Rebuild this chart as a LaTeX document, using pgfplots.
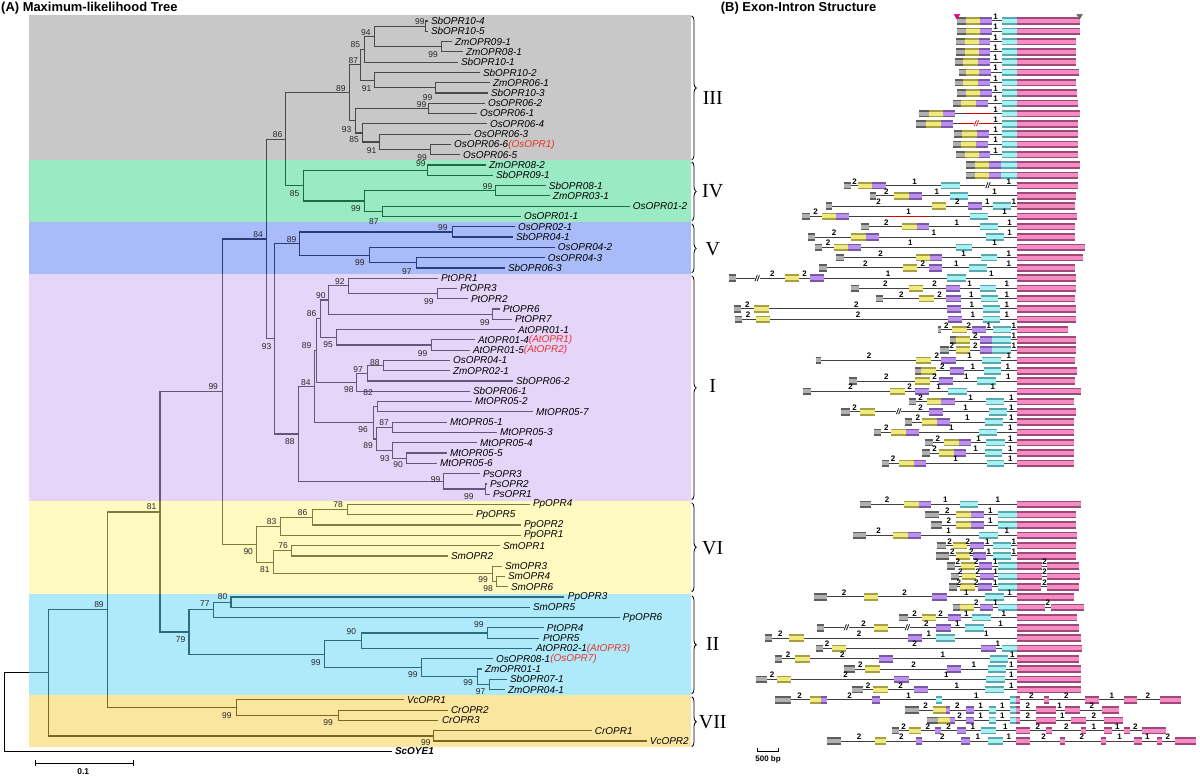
\documentclass[border=0pt]{standalone}
\usepackage{pgfplots}
\pgfplotsset{compat=1.18}
\usepackage{pgfplotstable}
\usetikzlibrary{decorations.pathreplacing}
\usepackage{fontspec}
\setmainfont{Liberation Sans}
\newfontfamily\romanfont{Liberation Serif}
\definecolor{bandIII}{HTML}{939393}
\definecolor{bandIV}{HTML}{36D68A}
\definecolor{bandV}{HTML}{5478F5}
\definecolor{bandI}{HTML}{CCADF5}
\definecolor{bandVI}{HTML}{FFF780}
\definecolor{bandII}{HTML}{5ED6F5}
\definecolor{bandVII}{HTML}{F8CF40}
\definecolor{redlab}{HTML}{E8302C}
\definecolor{gD}{HTML}{5E5E5E}\definecolor{gL}{HTML}{B0B0B0}
\definecolor{yD}{HTML}{A8A040}\definecolor{yL}{HTML}{EEEA80}
\definecolor{pD}{HTML}{7A58A8}\definecolor{pL}{HTML}{BC90EC}
\definecolor{cD}{HTML}{58A8B0}\definecolor{cL}{HTML}{A8F0F2}
\definecolor{kD}{HTML}{A04878}\definecolor{kL}{HTML}{F58CC4}

\pgfplotstableread{
x y
48.3 673.1
4.3 673.1
4.3 751.6
392 751.6
nan nan
107.3 610.0
48.3 610.0
48.3 736.2
433.9 736.2
nan nan
160 512.1
107.3 512.1
107.3 707.9
236.5 707.9
nan nan
404 700.1
236.5 700.1
236.5 715.6
338.4 715.6
nan nan
447.7 710.4
338.4 710.4
338.4 720.7
438.5 720.7
nan nan
592.3 731.0
433.9 731.0
433.9 741.3
647.4 741.3
nan nan
222.3 391.8
160 391.8
160 632.3
189 632.3
nan nan
213.3 610.1
189 610.1
189 654.5
325 654.5
nan nan
231 602.4
213.3 602.4
213.3 617.8
620 617.8
nan nan
564.7 597.2
231 597.2
231 607.5
530 607.5
nan nan
361.3 641.0
325 641.0
325 668.0
421.5 668.0
nan nan
487.6 633.3
361.3 633.3
361.3 648.7
532.6 648.7
nan nan
544 628.1
487.6 628.1
487.6 638.4
539.5 638.4
nan nan
492.7 659.0
421.5 659.0
421.5 677.0
477.5 677.0
nan nan
482 669.3
477.5 669.3
477.5 684.8
490 684.8
nan nan
507.3 679.6
490 679.6
490 689.9
505 689.9
nan nan
266.7 239.1
222.3 239.1
222.3 544.5
256.7 544.5
nan nan
280.7 526.5
256.7 526.5
256.7 562.6
274 562.6
nan nan
312.3 517.5
280.7 517.5
280.7 535.5
521 535.5
nan nan
347.7 509.8
312.3 509.8
312.3 525.2
521 525.2
nan nan
530 504.6
347.7 504.6
347.7 514.9
473.3 514.9
nan nan
291.7 551.0
274 551.0
274 574.1
492.3 574.1
nan nan
500 545.8
291.7 545.8
291.7 556.1
448.3 556.1
nan nan
501.7 566.4
492.3 566.4
492.3 581.9
496.7 581.9
nan nan
505 576.7
496.7 576.7
496.7 587.0
508.3 587.0
nan nan
285.7 139.3
266.7 139.3
266.7 338.9
274.3 338.9
nan nan
350 92.8
285.7 92.8
285.7 185.7
303.3 185.7
nan nan
361 64.8
350 64.8
350 120.7
355.7 120.7
nan nan
365 49.4
361 49.4
361 80.2
375 80.2
nan nan
375 36.5
365 36.5
365 62.2
458 62.2
nan nan
426 26.2
375 26.2
375 46.8
441.7 46.8
nan nan
428 21.0
426 21.0
426 31.3
428 31.3
nan nan
452 41.6
441.7 41.6
441.7 51.9
463 51.9
nan nan
480 72.5
375 72.5
375 87.9
435.7 87.9
nan nan
490 82.7
435.7 82.7
435.7 93.0
488 93.0
nan nan
429 108.5
355.7 108.5
355.7 133.0
362.3 133.0
nan nan
485 103.3
429 103.3
429 113.6
477 113.6
nan nan
487 123.9
362.3 123.9
362.3 142.0
380 142.0
nan nan
471 134.2
380 134.2
380 149.7
431 149.7
nan nan
451 144.5
431 144.5
431 154.8
460 154.8
nan nan
427.3 170.3
303.3 170.3
303.3 201.1
364.3 201.1
nan nan
486 165.1
427.3 165.1
427.3 175.4
493 175.4
nan nan
496 190.8
364.3 190.8
364.3 211.4
382.7 211.4
nan nan
546 185.6
496 185.6
496 195.9
550 195.9
nan nan
630 206.2
382.7 206.2
382.7 216.5
521 216.5
nan nan
300 243.6
274.3 243.6
274.3 434.2
298.3 434.2
nan nan
452.7 232.0
300 232.0
300 255.2
369.3 255.2
nan nan
515 226.8
452.7 226.8
452.7 237.1
513 237.1
nan nan
555 247.4
369.3 247.4
369.3 262.9
416.7 262.9
nan nan
545 257.7
416.7 257.7
416.7 268.0
505 268.0
nan nan
315 386.9
298.3 386.9
298.3 481.5
443.3 481.5
nan nan
316.7 350.7
315 350.7
315 423.0
373.3 423.0
nan nan
320.7 318.9
316.7 318.9
316.7 382.5
356.7 382.5
nan nan
329 300.2
320.7 300.2
320.7 337.5
336.7 337.5
nan nan
349 286.0
329 286.0
329 314.3
492.3 314.3
nan nan
438.3 278.3
349 278.3
349 293.7
437.3 293.7
nan nan
457.3 288.5
437.3 288.5
437.3 298.8
468.3 298.8
nan nan
500 309.1
492.3 309.1
492.3 319.4
511.7 319.4
nan nan
515 329.7
336.7 329.7
336.7 345.2
431.7 345.2
nan nan
475 340.0
431.7 340.0
431.7 350.3
470 350.3
nan nan
367.7 373.5
356.7 373.5
356.7 391.4
470 391.4
nan nan
383.3 365.8
367.7 365.8
367.7 381.2
513.3 381.2
nan nan
450 360.6
383.3 360.6
383.3 370.9
450 370.9
nan nan
377.7 406.9
373.3 406.9
373.3 439.1
376.7 439.1
nan nan
471.7 401.7
377.7 401.7
377.7 412.0
533.3 412.0
nan nan
392.7 427.5
376.7 427.5
376.7 450.7
392.7 450.7
nan nan
446.7 422.3
392.7 422.3
392.7 432.6
497.3 432.6
nan nan
477.3 442.9
392.7 442.9
392.7 458.4
406.7 458.4
nan nan
446.7 453.2
406.7 453.2
406.7 463.5
436.7 463.5
nan nan
480 473.8
443.3 473.8
443.3 489.2
485.7 489.2
nan nan
487.3 484.1
485.7 484.1
485.7 494.3
490 494.3
}\treetab

\pgfplotstableread{
x y t
431 21.0 SbOPR10-4
431 31.3 SbOPR10-5
455 41.6 ZmOPR09-1
466 51.9 ZmOPR08-1
461 62.2 SbOPR10-1
483 72.5 SbOPR10-2
493 82.7 ZmOPR06-1
491 93.0 SbOPR10-3
488 103.3 OsOPR06-2
480 113.6 OsOPR06-1
490 123.9 OsOPR06-4
474 134.2 OsOPR06-3
454 144.5 OsOPR06-6
463 154.8 OsOPR06-5
489 165.1 ZmOPR08-2
496 175.4 SbOPR09-1
549 185.6 SbOPR08-1
553 195.9 ZmOPR03-1
633 206.2 OsOPR01-2
524 216.5 OsOPR01-1
518 226.8 OsOPR02-1
516 237.1 SbOPR04-1
558 247.4 OsOPR04-2
548 257.7 OsOPR04-3
508 268.0 SbOPR06-3
441 278.3 PtOPR1
460 288.5 PtOPR3
471 298.8 PtOPR2
503 309.1 PtOPR6
515 319.4 PtOPR7
518 329.7 AtOPR01-1
478 340.0 AtOPR01-4
473 350.3 AtOPR01-5
453 360.6 OsOPR04-1
453 370.9 ZmOPR02-1
516 381.2 SbOPR06-2
473 391.4 SbOPR06-1
475 401.7 MtOPR05-2
536 412.0 MtOPR05-7
450 422.3 MtOPR05-1
500 432.6 MtOPR05-3
480 442.9 MtOPR05-4
450 453.2 MtOPR05-5
440 463.5 MtOPR05-6
483 473.8 PsOPR3
490 484.1 PsOPR2
493 494.3 PsOPR1
533 504.6 PpOPR4
476 514.9 PpOPR5
524 525.2 PpOPR2
524 535.5 PpOPR1
503 545.8 SmOPR1
451 556.1 SmOPR2
505 566.4 SmOPR3
508 576.7 SmOPR4
511 587.0 SmOPR6
568 597.2 PpOPR3
533 607.5 SmOPR5
623 617.8 PpOPR6
547 628.1 PtOPR4
543 638.4 PtOPR5
536 648.7 AtOPR02-1
496 659.0 OsOPR08-1
485 669.3 ZmOPR01-1
510 679.6 SbOPR07-1
508 689.9 ZmOPR04-1
407 700.1 VcOPR1
451 710.4 CrOPR2
442 720.7 CrOPR3
595 731.0 CrOPR1
650 741.3 VcOPR2
}\leaftab

\pgfplotstableread{
x y t
420 22 99
366 33 94
355.5 45 85
433.3 55 99
353.5 61 87
341 88.3 89
366.7 88.3 91
427.7 97.3 99
421.7 105 99
346.7 129.3 93
354.3 140 85
371.7 150.3 91
422.3 157.3 99
277.7 134.7 86
421 164 99
294.7 193.3 85
487.7 186.7 99
356 209 99
374 221.7 87
258.3 235 84
291.7 239.3 89
443 228 99
360 263 99
407 272 97
340 281.7 92
321 296 90
429 302 99
311.7 314 86
485 323 99
306.7 346 89
328.3 345 95
422.7 353.3 99
375 362.7 88
358.3 370 97
306 382.3 84
349 389.3 98
266.7 346.7 93
368.3 392.7 82
363.3 429.3 96
384.3 422.7 87
368.3 445.7 89
385 458.3 93
398.3 465 90
290 441.7 88
435.7 480 99
469 496.7 99
213.3 386.7 99
151.7 506.7 81
338.3 505 78
302.7 512.7 86
271.7 521.7 83
248.3 551.7 90
283.3 546 76
265 569.3 81
483.3 580 99
488.3 589 98
99 604.3 89
222.7 596.7 80
205 604.3 77
180.7 640 79
479 625 99
351.5 632 90
316 662.7 99
413 675 99
468.3 683.3 99
480.7 691.7 97
227 716 99
328.3 722.7 99
426 743.3 99
}\boottab

\pgfplotstableread{
x y
957.7 21.0
1017.7 21.0
nan nan
957.3 31.3
1017.7 31.3
nan nan
956 41.6
1017.7 41.6
nan nan
956 51.9
1017.7 51.9
nan nan
955 62.2
1017.7 62.2
nan nan
959.3 72.5
1017.7 72.5
nan nan
955 82.7
1017.7 82.7
nan nan
957.3 93.0
1017.7 93.0
nan nan
953.3 103.3
1017.7 103.3
nan nan
919 113.6
1017.7 113.6
nan nan
916.7 123.9
1017.7 123.9
nan nan
954.3 134.2
1017.7 134.2
nan nan
953.3 144.5
1017.7 144.5
nan nan
956.7 154.8
1017.7 154.8
nan nan
844.3 185.6
1017.7 185.6
nan nan
870 195.9
1017.7 195.9
nan nan
826.7 206.2
1017.7 206.2
nan nan
802.7 216.5
1017.7 216.5
nan nan
861.7 226.8
1017.7 226.8
nan nan
808.3 237.1
1017.7 237.1
nan nan
815.7 247.4
1017.7 247.4
nan nan
836.7 257.7
1017.7 257.7
nan nan
819 268.0
1017.7 268.0
nan nan
729.3 278.3
1017.7 278.3
nan nan
851.7 288.5
1017.7 288.5
nan nan
876.7 298.8
1017.7 298.8
nan nan
734 309.1
1017.7 309.1
nan nan
735 319.4
1017.7 319.4
nan nan
938.3 329.7
1017.7 329.7
nan nan
950 340.0
1017.7 340.0
nan nan
940.7 350.3
1017.7 350.3
nan nan
816 360.6
1017.7 360.6
nan nan
915 370.9
1017.7 370.9
nan nan
849 381.2
1017.7 381.2
nan nan
803.3 391.4
1017.7 391.4
nan nan
909.3 401.7
1017.7 401.7
nan nan
841.7 412.0
1017.7 412.0
nan nan
905.7 422.3
1017.7 422.3
nan nan
874.3 432.6
1017.7 432.6
nan nan
925.7 442.9
1017.7 442.9
nan nan
922.7 453.2
1017.7 453.2
nan nan
882.3 463.5
1017.7 463.5
nan nan
860 504.6
1017.7 504.6
nan nan
925 514.9
1017.7 514.9
nan nan
931 525.2
1017.7 525.2
nan nan
853.3 535.5
1017.7 535.5
nan nan
937.3 545.8
1017.7 545.8
nan nan
936 556.1
1017.7 556.1
nan nan
947.7 566.4
1060 566.4
nan nan
951 576.7
1060 576.7
nan nan
949.3 587.0
1060 587.0
nan nan
814.3 597.2
1017.7 597.2
nan nan
953.3 607.5
1060 607.5
nan nan
899 617.8
1017.7 617.8
nan nan
817.3 628.1
1017.7 628.1
nan nan
765 638.4
1017.7 638.4
nan nan
816 648.7
1017.7 648.7
nan nan
775 659.0
1017.7 659.0
nan nan
844.3 669.3
1017.7 669.3
nan nan
756.7 679.6
1017.7 679.6
nan nan
852.7 689.9
1017.7 689.9
nan nan
775 700.1
1181 700.1
nan nan
905 710.4
1119.3 710.4
nan nan
927.3 720.7
1123.3 720.7
nan nan
892.7 731.0
1166.7 731.0
nan nan
827.3 741.3
1196.7 741.3
}\introntab

\pgfplotstableread{
x y
957.7 21.0
966.7 21.0
nan nan
957.3 31.3
966.7 31.3
nan nan
956 41.6
965 41.6
nan nan
956 51.9
965 51.9
nan nan
955 62.2
963.3 62.2
nan nan
959.3 72.5
966 72.5
nan nan
955 82.7
963.3 82.7
nan nan
957.3 93.0
966 93.0
nan nan
953.3 103.3
961.7 103.3
nan nan
919 113.6
929 113.6
nan nan
916.7 123.9
926.7 123.9
nan nan
954.3 134.2
962.7 134.2
nan nan
953.3 144.5
961.7 144.5
nan nan
956.7 154.8
965 154.8
nan nan
966.7 165.1
975 165.1
nan nan
966.7 175.4
975 175.4
nan nan
844.3 185.6
851 185.6
nan nan
870 195.9
876.7 195.9
nan nan
826.7 206.2
832.7 206.2
nan nan
802.7 216.5
810 216.5
nan nan
861.7 226.8
869 226.8
nan nan
808.3 237.1
815 237.1
nan nan
815.7 247.4
822.3 247.4
nan nan
836.7 257.7
844 257.7
nan nan
819 268.0
827.7 268.0
nan nan
729.3 278.3
736.7 278.3
nan nan
851.7 288.5
859.3 288.5
nan nan
876.7 298.8
883.3 298.8
nan nan
734 309.1
741 309.1
nan nan
735 319.4
742.3 319.4
nan nan
938.3 329.7
941 329.7
nan nan
950 340.0
956.7 340.0
nan nan
940.7 350.3
949.3 350.3
nan nan
816 360.6
821.7 360.6
nan nan
915 370.9
921.7 370.9
nan nan
849 381.2
857.7 381.2
nan nan
803.3 391.4
811.7 391.4
nan nan
909.3 401.7
916.7 401.7
nan nan
841.7 412.0
850.7 412.0
nan nan
905.7 422.3
912.3 422.3
nan nan
874.3 432.6
881.7 432.6
nan nan
925.7 442.9
933.3 442.9
nan nan
922.7 453.2
930.7 453.2
nan nan
882.3 463.5
889.3 463.5
nan nan
860 504.6
871 504.6
nan nan
925 514.9
939 514.9
nan nan
931 525.2
942.7 525.2
nan nan
853.3 535.5
866.7 535.5
nan nan
937.3 545.8
946.7 545.8
nan nan
936 556.1
949.3 556.1
nan nan
947.7 566.4
955 566.4
nan nan
951 576.7
959.3 576.7
nan nan
949.3 587.0
957.3 587.0
nan nan
814.3 597.2
827.7 597.2
nan nan
953.3 607.5
960 607.5
nan nan
899 617.8
908.3 617.8
nan nan
817.3 628.1
824 628.1
nan nan
765 638.4
772.3 638.4
nan nan
816 648.7
823.3 648.7
nan nan
775 659.0
782.7 659.0
nan nan
844.3 669.3
855 669.3
nan nan
756.7 679.6
767.7 679.6
nan nan
852.7 689.9
863.3 689.9
nan nan
775 700.1
791.7 700.1
nan nan
905 710.4
919.3 710.4
nan nan
927.3 720.7
938.3 720.7
nan nan
892.7 731.0
899.3 731.0
nan nan
827.3 741.3
841.7 741.3
}\graytab

\pgfplotstableread{
x y
966.7 21.0
980.7 21.0
nan nan
966.7 31.3
980.7 31.3
nan nan
965 41.6
979.3 41.6
nan nan
965 51.9
979.3 51.9
nan nan
963.3 62.2
978.3 62.2
nan nan
966 72.5
979.3 72.5
nan nan
963.3 82.7
978.3 82.7
nan nan
966 93.0
980.7 93.0
nan nan
961.7 103.3
976 103.3
nan nan
929 113.6
943.3 113.6
nan nan
926.7 123.9
941 123.9
nan nan
962.7 134.2
977.3 134.2
nan nan
961.7 144.5
976.7 144.5
nan nan
965 154.8
979.3 154.8
nan nan
975 165.1
989.3 165.1
nan nan
975 175.4
989.3 175.4
nan nan
858.3 185.6
872.7 185.6
nan nan
894.3 195.9
909.3 195.9
nan nan
932.3 206.2
946 206.2
nan nan
822.7 216.5
836.7 216.5
nan nan
902.7 226.8
917.3 226.8
nan nan
851 237.1
866 237.1
nan nan
834 247.4
848.3 247.4
nan nan
916.7 257.7
930.7 257.7
nan nan
903.3 268.0
917.3 268.0
nan nan
785 278.3
799.3 278.3
nan nan
909 288.5
923.3 288.5
nan nan
919.3 298.8
934 298.8
nan nan
754.3 309.1
769 309.1
nan nan
756 319.4
770 319.4
nan nan
952.3 329.7
967.3 329.7
nan nan
956.7 340.0
970.7 340.0
nan nan
956.7 350.3
970.7 350.3
nan nan
916.7 360.6
931 360.6
nan nan
921.7 370.9
936 370.9
nan nan
915.7 381.2
930 381.2
nan nan
890.7 391.4
905 391.4
nan nan
927.3 401.7
941.7 401.7
nan nan
860 412.0
875 412.0
nan nan
922.7 422.3
937.3 422.3
nan nan
891.7 432.6
906 432.6
nan nan
944.3 442.9
959 442.9
nan nan
939.3 453.2
954 453.2
nan nan
899.3 463.5
914 463.5
nan nan
904.3 504.6
919 504.6
nan nan
956.7 514.9
971.7 514.9
nan nan
956.7 525.2
971 525.2
nan nan
893.3 535.5
908.3 535.5
nan nan
953.3 545.8
967.3 545.8
nan nan
956 556.1
970 556.1
nan nan
961.7 566.4
975 566.4
nan nan
962.7 576.7
976 576.7
nan nan
960.7 587.0
975 587.0
nan nan
864 597.2
878.3 597.2
nan nan
960 607.5
974 607.5
nan nan
922.7 617.8
936 617.8
nan nan
874 628.1
888.3 628.1
nan nan
789.3 638.4
804 638.4
nan nan
832.3 648.7
846.7 648.7
nan nan
795.7 659.0
810 659.0
nan nan
865.7 669.3
880 669.3
nan nan
777.3 679.6
791.7 679.6
nan nan
873.3 689.9
888.3 689.9
nan nan
810 700.1
821.7 700.1
nan nan
933.3 710.4
946 710.4
nan nan
938.3 720.7
950 720.7
nan nan
909.3 731.0
921 731.0
nan nan
875 741.3
886.7 741.3
}\yellowtab

\pgfplotstableread{
x y
980.7 21.0
992.3 21.0
nan nan
980.7 31.3
992.3 31.3
nan nan
979.3 41.6
990.7 41.6
nan nan
979.3 51.9
990.7 51.9
nan nan
978.3 62.2
990 62.2
nan nan
979.3 72.5
991.7 72.5
nan nan
978.3 82.7
990 82.7
nan nan
980.7 93.0
992.3 93.0
nan nan
976 103.3
988.3 103.3
nan nan
943.3 113.6
955.7 113.6
nan nan
941 123.9
953.3 123.9
nan nan
977.3 134.2
989.3 134.2
nan nan
976.7 144.5
988.3 144.5
nan nan
979.3 154.8
990.7 154.8
nan nan
989.3 165.1
1001.7 165.1
nan nan
989.3 175.4
1001.7 175.4
nan nan
872.7 185.6
886 185.6
nan nan
909.3 195.9
922.3 195.9
nan nan
968.3 206.2
982.3 206.2
nan nan
836.7 216.5
849 216.5
nan nan
917.3 226.8
929.3 226.8
nan nan
866 237.1
879 237.1
nan nan
848.3 247.4
861.7 247.4
nan nan
930.7 257.7
942.7 257.7
nan nan
929 268.0
942.7 268.0
nan nan
810 278.3
824 278.3
nan nan
946 288.5
960 288.5
nan nan
946.7 298.8
961 298.8
nan nan
947.3 309.1
961.7 309.1
nan nan
948.3 319.4
962.7 319.4
nan nan
972.3 329.7
986.7 329.7
nan nan
980 340.0
992.7 340.0
nan nan
980 350.3
992.7 350.3
nan nan
941.7 360.6
956 360.6
nan nan
950 370.9
964 370.9
nan nan
939 381.2
953.3 381.2
nan nan
915 391.4
929 391.4
nan nan
941.7 401.7
955 401.7
nan nan
929.3 412.0
943.3 412.0
nan nan
937.3 422.3
950.7 422.3
nan nan
906 432.6
919.3 432.6
nan nan
959 442.9
971.7 442.9
nan nan
954 453.2
966.7 453.2
nan nan
914 463.5
926.7 463.5
nan nan
919 504.6
931.7 504.6
nan nan
971.7 514.9
984 514.9
nan nan
971 525.2
984 525.2
nan nan
908.3 535.5
921 535.5
nan nan
970.7 545.8
984 545.8
nan nan
973.3 556.1
986.7 556.1
nan nan
979.3 566.4
992.7 566.4
nan nan
980.7 576.7
994 576.7
nan nan
978.3 587.0
992.3 587.0
nan nan
932.7 597.2
947.3 597.2
nan nan
980 607.5
993.3 607.5
nan nan
948.3 617.8
961.7 617.8
nan nan
936.7 628.1
951 628.1
nan nan
908.3 638.4
922.7 638.4
nan nan
981.7 648.7
996 648.7
nan nan
879 659.0
893.3 659.0
nan nan
947.3 669.3
961.7 669.3
nan nan
894.3 679.6
909 679.6
nan nan
914.3 689.9
928.3 689.9
nan nan
821.7 700.1
827.3 700.1
nan nan
872.3 700.1
880 700.1
nan nan
946 710.4
950.7 710.4
nan nan
966 710.4
974 710.4
nan nan
950 720.7
955 720.7
nan nan
966 720.7
974 720.7
nan nan
935.7 731.0
941 731.0
nan nan
957.3 731.0
966 731.0
nan nan
916.7 741.3
922.3 741.3
nan nan
961.7 741.3
970 741.3
}\purpletab

\pgfplotstableread{
x y
1002.3 21.0
1017.7 21.0
nan nan
1002.3 31.3
1017.7 31.3
nan nan
1002.3 41.6
1017.7 41.6
nan nan
1002.3 51.9
1017.7 51.9
nan nan
1002.3 62.2
1017.7 62.2
nan nan
1002.3 72.5
1017.7 72.5
nan nan
1002.3 82.7
1017.7 82.7
nan nan
1002.3 93.0
1017.7 93.0
nan nan
1002.3 103.3
1017.7 103.3
nan nan
1002.3 113.6
1017.7 113.6
nan nan
1002.3 123.9
1017.7 123.9
nan nan
1002.3 134.2
1017.7 134.2
nan nan
1002.3 144.5
1017.7 144.5
nan nan
1002.3 154.8
1017.7 154.8
nan nan
1001.7 165.1
1017.7 165.1
nan nan
1001.7 175.4
1017.7 175.4
nan nan
941.7 185.6
960 185.6
nan nan
950 195.9
968.3 195.9
nan nan
993.3 206.2
1011.7 206.2
nan nan
970 216.5
988.3 216.5
nan nan
980 226.8
998.3 226.8
nan nan
986 237.1
1004.3 237.1
nan nan
956 247.4
972.7 247.4
nan nan
981 257.7
997.7 257.7
nan nan
969 268.0
987.3 268.0
nan nan
947.7 278.3
966.7 278.3
nan nan
980 288.5
996.7 288.5
nan nan
981 298.8
998.3 298.8
nan nan
983.3 309.1
1000 309.1
nan nan
983.3 319.4
1000 319.4
nan nan
993.3 329.7
1011 329.7
nan nan
992.7 340.0
1011 340.0
nan nan
992.7 350.3
1011 350.3
nan nan
982.7 360.6
1001 360.6
nan nan
984 370.9
1001.7 370.9
nan nan
977.3 381.2
996 381.2
nan nan
948.3 391.4
967.3 391.4
nan nan
986.7 401.7
1004.3 401.7
nan nan
989 412.0
1007.3 412.0
nan nan
985.7 422.3
1003.3 422.3
nan nan
979.3 432.6
997.7 432.6
nan nan
986.7 442.9
1005 442.9
nan nan
985 453.2
1002.7 453.2
nan nan
987.3 463.5
1004.3 463.5
nan nan
960 504.6
978.3 504.6
nan nan
998.3 514.9
1017.7 514.9
nan nan
998.3 525.2
1017.7 525.2
nan nan
979 535.5
998.3 535.5
nan nan
993.3 545.8
1011.7 545.8
nan nan
993.3 556.1
1011.7 556.1
nan nan
998.3 566.4
1017.7 566.4
nan nan
998.3 576.7
1017.7 576.7
nan nan
998.3 587.0
1017.7 587.0
nan nan
985 597.2
1004 597.2
nan nan
998.3 607.5
1017.7 607.5
nan nan
972.3 617.8
991.7 617.8
nan nan
965.7 628.1
984 628.1
nan nan
936.7 638.4
955.7 638.4
nan nan
1002.3 648.7
1017.7 648.7
nan nan
990 659.0
1008.3 659.0
nan nan
988.3 669.3
1006.7 669.3
nan nan
986.7 679.6
1005 679.6
nan nan
985 689.9
1004 689.9
nan nan
936 700.1
942.7 700.1
nan nan
1010 700.1
1016.7 700.1
nan nan
989.3 710.4
996 710.4
nan nan
1010 710.4
1016.7 710.4
nan nan
989.3 720.7
996 720.7
nan nan
1010 720.7
1016.7 720.7
nan nan
981 731.0
996 731.0
nan nan
988.3 741.3
1003.3 741.3
}\cyantab

\pgfplotstableread{
x y
1017.7 21.0
1080 21.0
nan nan
1017.7 31.3
1080 31.3
nan nan
1017.7 41.6
1076.7 41.6
nan nan
1017.7 51.9
1076.7 51.9
nan nan
1017.7 62.2
1076 62.2
nan nan
1017.7 72.5
1079.3 72.5
nan nan
1017.7 82.7
1076.7 82.7
nan nan
1017.7 93.0
1077.3 93.0
nan nan
1017.7 103.3
1078.3 103.3
nan nan
1017.7 113.6
1080 113.6
nan nan
1017.7 123.9
1078.3 123.9
nan nan
1017.7 134.2
1078.3 134.2
nan nan
1017.7 144.5
1078.3 144.5
nan nan
1017.7 154.8
1078.3 154.8
nan nan
1017.7 165.1
1080 165.1
nan nan
1017.7 175.4
1078.3 175.4
nan nan
1017.7 185.6
1078.3 185.6
nan nan
1017.7 195.9
1076.7 195.9
nan nan
1017.7 206.2
1075 206.2
nan nan
1017.7 216.5
1077.3 216.5
nan nan
1017.7 226.8
1075 226.8
nan nan
1017.7 237.1
1075 237.1
nan nan
1017.7 247.4
1085 247.4
nan nan
1017.7 257.7
1083.3 257.7
nan nan
1017.7 268.0
1075 268.0
nan nan
1017.7 278.3
1076 278.3
nan nan
1017.7 288.5
1076 288.5
nan nan
1017.7 298.8
1075 298.8
nan nan
1017.7 309.1
1076 309.1
nan nan
1017.7 319.4
1076 319.4
nan nan
1017.7 329.7
1068.3 329.7
nan nan
1017.7 340.0
1076 340.0
nan nan
1017.7 350.3
1076 350.3
nan nan
1017.7 360.6
1075 360.6
nan nan
1017.7 370.9
1077 370.9
nan nan
1017.7 381.2
1075 381.2
nan nan
1017.7 391.4
1081 391.4
nan nan
1017.7 401.7
1074 401.7
nan nan
1017.7 412.0
1076 412.0
nan nan
1017.7 422.3
1074 422.3
nan nan
1017.7 432.6
1074 432.6
nan nan
1017.7 442.9
1074 442.9
nan nan
1017.7 453.2
1074 453.2
nan nan
1017.7 463.5
1074 463.5
nan nan
1017.7 504.6
1081 504.6
nan nan
1017.7 514.9
1076 514.9
nan nan
1017.7 525.2
1076 525.2
nan nan
1017.7 535.5
1077 535.5
nan nan
1017.7 545.8
1076 545.8
nan nan
1017.7 556.1
1076 556.1
nan nan
1017.7 566.4
1042.7 566.4
nan nan
1047.7 566.4
1079 566.4
nan nan
1017.7 576.7
1042.7 576.7
nan nan
1047.7 576.7
1080.7 576.7
nan nan
1017.7 587.0
1041.7 587.0
nan nan
1047.7 587.0
1079 587.0
nan nan
1017.7 597.2
1074 597.2
nan nan
1017.7 607.5
1045.7 607.5
nan nan
1051 607.5
1084.3 607.5
nan nan
1017.7 617.8
1077 617.8
nan nan
1017.7 628.1
1079.3 628.1
nan nan
1017.7 638.4
1081.7 638.4
nan nan
1017.7 648.7
1082.3 648.7
nan nan
1017.7 659.0
1079.3 659.0
nan nan
1017.7 669.3
1081 669.3
nan nan
1017.7 679.6
1081 679.6
nan nan
1017.7 689.9
1081 689.9
nan nan
1016.7 700.1
1020 700.1
nan nan
1044 700.1
1049.3 700.1
nan nan
1085.7 700.1
1099 700.1
nan nan
1124.3 700.1
1137.7 700.1
nan nan
1160 700.1
1181 700.1
nan nan
1016.7 710.4
1020 710.4
nan nan
1036 710.4
1056 710.4
nan nan
1065.7 710.4
1080.7 710.4
nan nan
1102.7 710.4
1119.3 710.4
nan nan
1016.7 720.7
1020 720.7
nan nan
1036 720.7
1056 720.7
nan nan
1071.7 720.7
1086.7 720.7
nan nan
1104 720.7
1123.3 720.7
nan nan
1016.7 731.0
1030 731.0
nan nan
1046.7 731.0
1052.3 731.0
nan nan
1081.7 731.0
1086.7 731.0
nan nan
1104.3 731.0
1112.7 731.0
nan nan
1124 731.0
1130 731.0
nan nan
1142.3 731.0
1166.7 731.0
nan nan
1016.7 741.3
1030 741.3
nan nan
1060 741.3
1065.7 741.3
nan nan
1101 741.3
1106 741.3
nan nan
1134 741.3
1142.3 741.3
nan nan
1157.3 741.3
1162.7 741.3
nan nan
1175 741.3
1196.7 741.3
}\pinktab

\pgfplotstableread{
x y t
996 19.5 1
996 29.8 1
996 40.1 1
996 50.4 1
996 60.7 1
996 71.0 1
996 81.2 1
996 91.5 1
996 101.8 1
996 112.1 1
996 122.4 1
996 132.7 1
996 143.0 1
996 153.3 1
855 184.1 2
915 184.1 1
1009.3 184.1 1
886.7 194.4 2
937.3 194.4 1
995 194.4 1
879 204.7 2
957.7 204.7 2
987.7 204.7 1
1014.3 204.7 1
816 215.0 2
909 215.0 1
1005 215.0 1
886.7 225.3 2
957.3 225.3 1
1010 225.3 1
834.3 235.6 2
934.3 235.6 1
1010 235.6 1
828.3 245.9 2
910.7 245.9 1
995 245.9 1
881 256.2 2
964 256.2 1
1009.3 256.2 1
865.7 266.5 2
923.3 266.5 2
956.7 266.5 1
1009.3 266.5 1
772.7 276.8 2
805 276.8 2
888.3 276.8 1
991.7 276.8 1
885.7 287.0 2
935 287.0 2
970 287.0 1
1007.3 287.0 1
901.7 297.3 2
940 297.3 2
971.7 297.3 1
1007.3 297.3 1
747.7 307.6 2
856.7 307.6 2
972.3 307.6 1
1007.3 307.6 1
748.3 317.9 2
858.3 317.9 2
973.3 317.9 1
1007.3 317.9 1
946.7 328.2 2
969.3 328.2 2
989.3 328.2 1
1014.3 328.2 1
975.7 338.5 2
1014.3 338.5 1
952.3 348.8 2
975.7 348.8 2
1014.3 348.8 1
869.3 359.1 2
937.3 359.1 2
970 359.1 1
1009.3 359.1 1
942.7 369.4 2
973.3 369.4 1
1008.3 369.4 1
886.7 379.7 2
935 379.7 2
966.7 379.7 1
1008.7 379.7 1
851 389.9 2
910 389.9 2
939 389.9 1
993.3 389.9 1
921 400.2 2
971 400.2 1
1011.7 400.2 1
855 410.5 2
921 410.5 2
966 410.5 1
1011.7 410.5 1
918.3 420.8 2
967.7 420.8 1
1011.7 420.8 1
886.7 431.1 2
951.7 431.1 1
1010.7 431.1 1
938.3 441.4 2
979 441.4 1
1010.7 441.4 1
935 451.7 2
976 451.7 1
1010.7 451.7 1
893.3 462.0 2
956 462.0 1
1010.7 462.0 1
887.3 503.1 2
945.7 503.1 1
998.3 503.1 1
947.7 513.4 2
990.7 513.4 1
949.3 523.7 2
990.7 523.7 1
879 534.0 2
949 534.0 1
1007.3 534.0 1
950 544.3 2
968.3 544.3 2
987.7 544.3 1
1014.3 544.3 1
952.7 554.6 2
971.7 554.6 2
989.3 554.6 1
1014.3 554.6 1
958.3 564.9 2
976.7 564.9 2
995.7 564.9 1
1045 564.9 2
960.7 575.2 2
978.3 575.2 2
996 575.2 1
1045 575.2 2
959.3 585.5 2
976.7 585.5 2
995.7 585.5 1
1045 585.5 2
844.3 595.7 2
905 595.7 2
966.7 595.7 1
1010 595.7 1
976.7 606.0 2
996 606.0 1
1048.3 606.0 2
915 616.3 2
941 616.3 2
966.7 616.3 1
1004.3 616.3 1
864 626.6 2
926.7 626.6 2
957.7 626.6 1
1001 626.6 1
780.7 636.9 2
859.3 636.9 2
929.3 636.9 1
986.7 636.9 1
827.3 647.2 2
915 647.2 2
998.3 647.2 1
788.3 657.5 2
842.7 657.5 2
943.3 657.5 1
1012.7 657.5 1
860.7 667.8 2
914 667.8 2
974.3 667.8 1
1011.7 667.8 1
772.3 678.1 2
846 678.1 2
946.7 678.1 1
1011.7 678.1 1
868.3 688.4 2
901 688.4 2
957.3 688.4 1
1011.7 688.4 1
800 698.6 2
850 698.6 2
909 698.6 1
976.7 698.6 1
1031.7 698.6 2
1066.7 698.6 2
1112.3 698.6 1
1148.3 698.6 2
926 708.9 2
957.7 708.9 2
981 708.9 1
1002.7 708.9 1
1028.3 708.9 2
1060 708.9 1
1092.3 708.9 2
960 719.2 2
981 719.2 1
1002.7 719.2 1
1028.3 719.2 2
1062.7 719.2 1
1094.3 719.2 2
904 729.5 2
928.3 729.5 2
949 729.5 2
973.3 729.5 1
1005.7 729.5 1
1038.3 729.5 2
1066.7 729.5 2
1094.3 729.5 1
1117.7 729.5 1
1135.7 729.5 2
859.3 739.8 2
901.7 739.8 2
942.7 739.8 2
978.3 739.8 1
1009.3 739.8 1
1044 739.8 2
1082.3 739.8 2
1120 739.8 1
1147.7 739.8 1
1168.3 739.8 2
}\phasetab

\begin{document}
\begin{tikzpicture}
\begin{axis}[
  width=1200bp, height=777bp, scale only axis,
  xmin=0, xmax=1200, ymin=0, ymax=777, y dir=reverse,
  hide axis, clip=false, unbounded coords=jump,
]
% background
\addplot[draw=none, fill=white] coordinates {(0,0)(1200,0)(1200,777)(0,777)(0,0)};

% ---------- Panel A: tree ----------
\addplot[black, line width=1.2bp] table {\treetab};
\addplot[draw=none, nodes near coords, point meta=explicit symbolic,
  every node near coord/.append style={anchor=west, inner sep=0pt, text=black,
  font=\fontsize{10}{12}\selectfont\itshape}] table[meta=t] {\leaftab};
\addplot[draw=none, nodes near coords, point meta=explicit symbolic,
  every node near coord/.append style={anchor=center, inner sep=0pt, text=black!85,
  font=\fontsize{8.5}{10}\selectfont}] table[meta=t] {\boottab};

% clade bands (translucent overlays)
\addplot[draw=none, fill=bandIII, fill opacity=0.5] coordinates {(29,15)(691,15)(691,160.5)(29,160.5)};
\addplot[draw=none, fill=bandIV, fill opacity=0.5] coordinates {(29,160.5)(691,160.5)(691,222.5)(29,222.5)};
\addplot[draw=none, fill=bandV, fill opacity=0.5] coordinates {(29,222.5)(691,222.5)(691,274)(29,274)};
\addplot[draw=none, fill=bandI, fill opacity=0.5] coordinates {(29,274)(691,274)(691,501.5)(29,501.5)};
\addplot[draw=none, fill=bandVI, fill opacity=0.5] coordinates {(29,501.5)(691,501.5)(691,594)(29,594)};
\addplot[draw=none, fill=bandII, fill opacity=0.5] coordinates {(29,594)(691,594)(691,695.5)(29,695.5)};
\addplot[draw=none, fill=bandVII, fill opacity=0.5] coordinates {(29,695.5)(691,695.5)(691,747.7)(29,747.7)};

% red alias labels
\node[anchor=west, inner sep=0pt, font=\fontsize{10}{12}\selectfont\itshape, text=redlab] at (axis cs:454,144.5) {\phantom{OsOPR06-6}(OsOPR1)};
\node[anchor=west, inner sep=0pt, font=\fontsize{10}{12}\selectfont\itshape, text=redlab] at (axis cs:478,340.0) {\phantom{AtOPR01-4}(AtOPR1)};
\node[anchor=west, inner sep=0pt, font=\fontsize{10}{12}\selectfont\itshape, text=redlab] at (axis cs:473,350.3) {\phantom{AtOPR01-5}(AtOPR2)};
\node[anchor=west, inner sep=0pt, font=\fontsize{10}{12}\selectfont\itshape, text=redlab] at (axis cs:536,648.7) {\phantom{AtOPR02-1}(AtOPR3)};
\node[anchor=west, inner sep=0pt, font=\fontsize{10}{12}\selectfont\itshape, text=redlab] at (axis cs:496,659.0) {\phantom{OsOPR08-1}(OsOPR7)};
\node[anchor=west, inner sep=0pt, font=\fontsize{10}{12}\selectfont\bfseries\itshape] at (axis cs:395,751.6) {ScOYE1};

% braces and clade numerals
\draw[decorate, decoration={brace, amplitude=4.5bp}, line width=0.8bp] (axis cs:692,16) -- (axis cs:692,160);
\draw[decorate, decoration={brace, amplitude=4.5bp}, line width=0.8bp] (axis cs:692,162) -- (axis cs:692,221);
\draw[decorate, decoration={brace, amplitude=4.5bp}, line width=0.8bp] (axis cs:692,224) -- (axis cs:692,273);
\draw[decorate, decoration={brace, amplitude=4.5bp}, line width=0.8bp] (axis cs:692,276) -- (axis cs:692,500);
\draw[decorate, decoration={brace, amplitude=4.5bp}, line width=0.8bp] (axis cs:692,503) -- (axis cs:692,592);
\draw[decorate, decoration={brace, amplitude=4.5bp}, line width=0.8bp] (axis cs:692,596) -- (axis cs:692,694);
\draw[decorate, decoration={brace, amplitude=4.5bp}, line width=0.8bp] (axis cs:692,697) -- (axis cs:692,747);
\node[font=\romanfont\fontsize{20}{20}\selectfont] at (axis cs:713,98) {III};
\node[font=\romanfont\fontsize{20}{20}\selectfont] at (axis cs:713,191) {IV};
\node[font=\romanfont\fontsize{20}{20}\selectfont] at (axis cs:713,249) {V};
\node[font=\romanfont\fontsize{20}{20}\selectfont] at (axis cs:713,386) {I};
\node[font=\romanfont\fontsize{20}{20}\selectfont] at (axis cs:713,548) {VI};
\node[font=\romanfont\fontsize{20}{20}\selectfont] at (axis cs:713,644) {II};
\node[font=\romanfont\fontsize{20}{20}\selectfont] at (axis cs:713,722) {VII};

% tree scale bar
\addplot[black, line width=0.9bp] coordinates {(35,763.3)(133.3,763.3)};
\addplot[black, line width=0.9bp] coordinates {(35,760.5)(35,766)};
\addplot[black, line width=0.9bp] coordinates {(133.3,760.5)(133.3,766)};
\node[font=\fontsize{8.5}{10}\selectfont\bfseries] at (axis cs:83.3,771.5) {0.1};

% titles
\node[anchor=west, inner sep=0pt, font=\fontsize{13}{15}\selectfont\bfseries] at (axis cs:1,8) {(A) Maximum-likelihood Tree};
\node[anchor=west, inner sep=0pt, font=\fontsize{13}{15}\selectfont\bfseries] at (axis cs:721,8) {(B) Exon-Intron Structure};

% ---------- Panel B: exon-intron structures ----------
\addplot[black!75, line width=1bp] table {\introntab};
\addplot[red!85!black, line width=1.1bp] coordinates {(965,113.6)(993.3,113.6)};
\addplot[red!85!black, line width=1.1bp] coordinates {(960.7,123.9)(993.3,123.9)};
\addplot[red!85!black, line width=1.1bp] coordinates {(888.3,216.5)(927.3,216.5)};

\addplot[gD, line width=7.5bp] table {\graytab};
\addplot[gL, line width=4bp] table {\graytab};
\addplot[yD, line width=7.5bp] table {\yellowtab};
\addplot[yL, line width=4bp] table {\yellowtab};
\addplot[pD, line width=7.5bp] table {\purpletab};
\addplot[pL, line width=4bp] table {\purpletab};
\addplot[cD, line width=7.5bp] table {\cyantab};
\addplot[cL, line width=4bp] table {\cyantab};
\addplot[kD, line width=7.5bp] table {\pinktab};
\addplot[kL, line width=4bp] table {\pinktab};

\addplot[draw=none, nodes near coords, point meta=explicit symbolic,
  every node near coord/.append style={anchor=base, inner sep=0pt, text=black,
  font=\fontsize{8}{9}\selectfont\bfseries}] table[meta=t] {\phasetab};

% break marks
\node[fill=white, inner sep=0.3pt, font=\fontsize{8}{9}\selectfont\bfseries\itshape] at (axis cs:988.3,185.6) {//};
\node[fill=white, inner sep=0.3pt, font=\fontsize{8}{9}\selectfont\bfseries\itshape] at (axis cs:757.3,278.3) {//};
\node[fill=white, inner sep=0.3pt, font=\fontsize{8}{9}\selectfont\bfseries\itshape] at (axis cs:899,412.0) {//};
\node[fill=white, inner sep=0.3pt, font=\fontsize{8}{9}\selectfont\bfseries\itshape] at (axis cs:846.7,628.1) {//};
\node[fill=white, inner sep=0.3pt, font=\fontsize{8}{9}\selectfont\bfseries\itshape] at (axis cs:907.7,628.1) {//};
\node[fill=white, inner sep=0.3pt, text=red!85!black, font=\fontsize{8}{9}\selectfont\bfseries\itshape] at (axis cs:976.7,123.9) {//};

% start / stop triangles
\addplot[only marks, mark=triangle*, mark size=3.2bp, mark options={rotate=180, fill=magenta, draw=magenta}] coordinates {(957.3,16)};
\addplot[only marks, mark=triangle*, mark size=3.2bp, mark options={rotate=180, fill=black!60, draw=black!60}] coordinates {(1080,16)};

% 500 bp scale
\addplot[black, line width=0.9bp] coordinates {(757.3,748.5)(757.3,751.7)(778.3,751.7)(778.3,748.5)};
\node[font=\fontsize{8}{9}\selectfont\bfseries] at (axis cs:768.3,760) {500 bp};
\end{axis}
\end{tikzpicture}
\end{document}
